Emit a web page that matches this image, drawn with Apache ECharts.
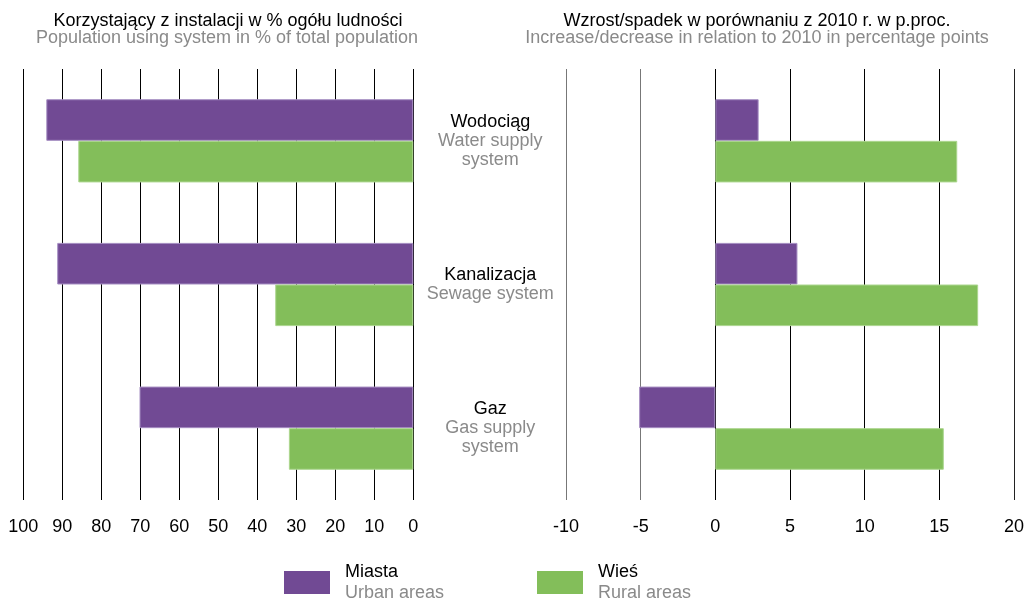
<html>
<head>
<meta charset="utf-8">
<title>ECharts</title>
</head>
<body style="margin:0">
<div id="main" style="width: 1027px;height:599px;"></div>
<script src="https://cdn.jsdelivr.net/npm/echarts@6/dist/echarts.min.js"></script>
<script>
// data
var categories = ['Wodociąg', 'Kanalizacja', 'Gaz'];
var categoriesEn = ['Water supply\nsystem', 'Sewage system', 'Gas supply\nsystem'];
var urbanShare = [94.1, 91.3, 70.2];
var ruralShare = [85.9, 35.4, 31.9];
var urbanChange = [2.9, 5.5, -5.1];
var ruralChange = [16.2, 17.6, 15.3];

var FONT = 'Liberation Sans';
var FS = 18;
var GRAY = '#8a8a8a';
var PURPLE = '#714a94';
var GREEN = '#83be5a';

var chart = echarts.init(document.getElementById('main'));

function catLabel(value, idx) {
	var en = categoriesEn[idx].split('\n').map(function (s) { return '{b|' + s + '}'; }).join('\n');
	return '{a|' + value + '}\n' + en;
}

function legendLabel(pl, en) {
	return '{a|' + pl + '}\n{b|' + en + '}';
}

var legendRich = {
	a: {fontFamily: FONT, fontSize: FS, color: '#000', lineHeight: 21, padding: [0, 0, 0, 10]},
	b: {fontFamily: FONT, fontSize: FS, color: GRAY, lineHeight: 21, padding: [0, 0, 0, 10]}
};

var option = {
	animation: false,
	textStyle: {fontFamily: FONT},
	graphic: [
		{type: 'text', x: 228, y: 21, style: {text: 'Korzystający z instalacji w % ogółu ludności', font: FS + 'px ' + FONT, fill: '#000', align: 'center', verticalAlign: 'middle'}},
		{type: 'text', x: 227, y: 38.5, style: {text: 'Population using system in % of total population', font: FS + 'px ' + FONT, fill: GRAY, align: 'center', verticalAlign: 'middle'}},
		{type: 'text', x: 757, y: 21, style: {text: 'Wzrost/spadek w porównaniu z 2010 r. w p.proc.', font: FS + 'px ' + FONT, fill: '#000', align: 'center', verticalAlign: 'middle'}},
		{type: 'text', x: 757, y: 38.5, style: {text: 'Increase/decrease in relation to 2010 in percentage points', font: FS + 'px ' + FONT, fill: GRAY, align: 'center', verticalAlign: 'middle'}}
	],
	legend: [
		{
			data: ['Miasta'], left: 284, top: 563, padding: 0,
			itemWidth: 46, itemHeight: 23, icon: 'rect',
			itemStyle: {borderWidth: 0},
			formatter: function () { return legendLabel('Miasta', 'Urban areas'); },
			textStyle: {rich: legendRich}
		},
		{
			data: ['Wieś'], left: 537, top: 563, padding: 0,
			itemWidth: 46, itemHeight: 23, icon: 'rect',
			itemStyle: {borderWidth: 0},
			formatter: function () { return legendLabel('Wieś', 'Rural areas'); },
			textStyle: {rich: legendRich}
		}
	],
	grid: [
		{left: 23.3, width: 390, top: 69, height: 431},
		{left: 566, width: 448.5, top: 69, height: 431}
	],
	xAxis: [
		{
			type: 'value', gridIndex: 0, min: 0, max: 100, interval: 10, inverse: true,
			axisLine: {show: false}, axisTick: {show: false},
			axisLabel: {fontFamily: FONT, fontSize: FS, color: '#000', margin: 18},
			splitLine: {show: true, lineStyle: {color: '#000', width: 1}}
		},
		{
			type: 'value', gridIndex: 1, min: -10, max: 20, interval: 5,
			axisLine: {show: false}, axisTick: {show: false},
			axisLabel: {fontFamily: FONT, fontSize: FS, color: '#000', margin: 18},
			splitLine: {show: true, lineStyle: {color: ['#777', '#777', '#000', '#000', '#000', '#000', '#222'], width: 1}}
		}
	],
	yAxis: [
		{
			type: 'category', gridIndex: 0, data: categories, inverse: true, position: 'right',
			axisLine: {show: false}, axisTick: {show: false},
			axisLabel: {
				margin: 77, align: 'center', formatter: catLabel,
				rich: {
					a: {fontFamily: FONT, fontSize: FS, color: '#000', lineHeight: 19, align: 'center'},
					b: {fontFamily: FONT, fontSize: FS, color: GRAY, lineHeight: 19, align: 'center'}
				}
			}
		},
		{
			type: 'category', gridIndex: 1, data: categories, inverse: true,
			axisLine: {show: false}, axisTick: {show: false}, axisLabel: {show: false}
		}
	],
	series: [
		{name: 'Miasta', type: 'bar', xAxisIndex: 0, yAxisIndex: 0, data: urbanShare, barWidth: 41.6, barGap: '0%',
			itemStyle: {color: PURPLE, borderColor: '#a58dc2', borderWidth: 1}},
		{name: 'Wieś', type: 'bar', xAxisIndex: 0, yAxisIndex: 0, data: ruralShare, barWidth: 41.6, barGap: '0%',
			itemStyle: {color: GREEN, borderColor: '#acd68f', borderWidth: 1}},
		{name: 'Miasta', type: 'bar', xAxisIndex: 1, yAxisIndex: 1, data: urbanChange, barWidth: 41.6, barGap: '0%',
			itemStyle: {color: PURPLE, borderColor: '#a58dc2', borderWidth: 1}},
		{name: 'Wieś', type: 'bar', xAxisIndex: 1, yAxisIndex: 1, data: ruralChange, barWidth: 41.6, barGap: '0%',
			itemStyle: {color: GREEN, borderColor: '#acd68f', borderWidth: 1}}
	]
};

chart.setOption(option);
</script>
</body>
</html>
